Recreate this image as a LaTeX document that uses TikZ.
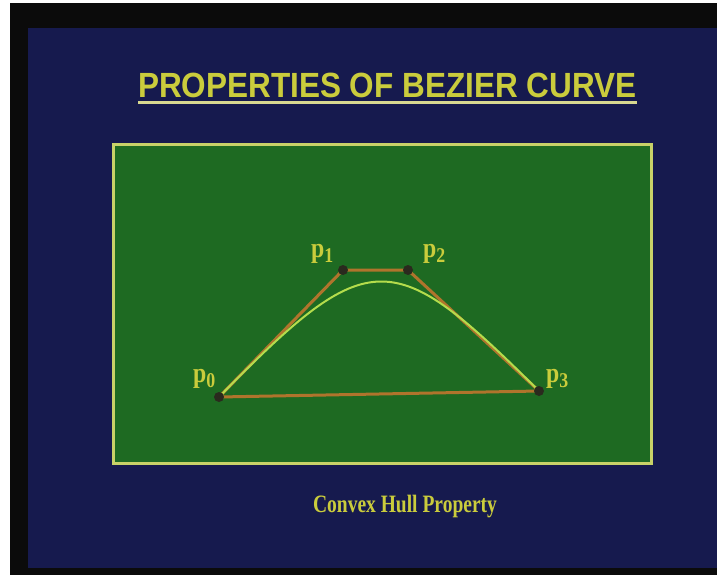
\documentclass[tikz,border=0pt]{standalone}
\usepackage{graphicx}
\usepackage{fontspec}
\setmainfont{Liberation Serif}
\newfontfamily\titlefont{Liberation Sans}
\definecolor{bgblue}{HTML}{161A4E}
\definecolor{frameblack}{HTML}{0B0B0B}
\definecolor{boardgreen}{HTML}{1E6A22}
\definecolor{boardedge}{HTML}{C8D268}
\definecolor{txtyellow}{HTML}{CACC3C}
\definecolor{lineyellow}{HTML}{D8D890}
\definecolor{hullbrown}{HTML}{B0742C}
\definecolor{curvegreen}{HTML}{B4DC4C}
\definecolor{ptdark}{HTML}{2A2A1E}
\newcommand{\plab}[1]{\scalebox{0.85}[1]{p\raisebox{-5pt}{\fontsize{21}{21}\selectfont #1}}}
\tikzset{
  hull/.style={draw=hullbrown,line width=3pt,line cap=round,line join=round},
  curveline/.style={draw=curvegreen,line width=2pt},
  ctrlpt/.style={circle,fill=ptdark,inner sep=0pt,minimum size=10pt},
  plabel/.style={text=txtyellow,font=\bfseries\fontsize{28}{28}\selectfont,inner sep=0pt,anchor=base west}
}
\begin{document}
\begin{tikzpicture}[x=1pt,y=-1pt]
\useasboundingbox (0,0) rectangle (717,575);
\fill[white] (0,0) rectangle (717,575);
\fill[frameblack] (10,3) rectangle (717,575);
\fill[bgblue] (28,28) rectangle (717,568);
% title
\node[text=txtyellow,font=\titlefont\bfseries\fontsize{35}{35}\selectfont,inner sep=0pt,anchor=base west] (title) at (138,98) {\scalebox{0.9}[1]{PROPERTIES OF BEZIER CURVE}};
\draw[lineyellow,line width=2.5pt] ([yshift=-4.5pt]title.base west) -- ([yshift=-4.5pt]title.base east);
% board
\draw[fill=boardgreen,draw=boardedge,line width=3pt] (113,144) rectangle (651,463);
% control points
\coordinate (p0) at (219,397);
\coordinate (p1) at (343,270);
\coordinate (p2) at (408,270);
\coordinate (p3) at (539,391);
\draw[hull] (p0) -- (p1) -- (p2) -- (p3) -- cycle;
\draw[curveline] (p0) .. controls (370,243) and (392,245) .. (p3);
\node[ctrlpt] (n0) at (p0) {};
\node[ctrlpt] (n1) at (p1) {};
\node[ctrlpt] (n2) at (p2) {};
\node[ctrlpt] (n3) at (p3) {};
\node[plabel] (l0) at (193,382) {\plab{0}};
\node[plabel] (l1) at (311,257) {\plab{1}};
\node[plabel] (l2) at (423,257) {\plab{2}};
\node[plabel] (l3) at (546,382) {\plab{3}};
\node[text=txtyellow,font=\bfseries\fontsize{25}{25}\selectfont,inner sep=0pt,anchor=base] (cap) at (405,512) {\scalebox{0.78}[1]{Convex Hull Property}};
\end{tikzpicture}
\end{document}
